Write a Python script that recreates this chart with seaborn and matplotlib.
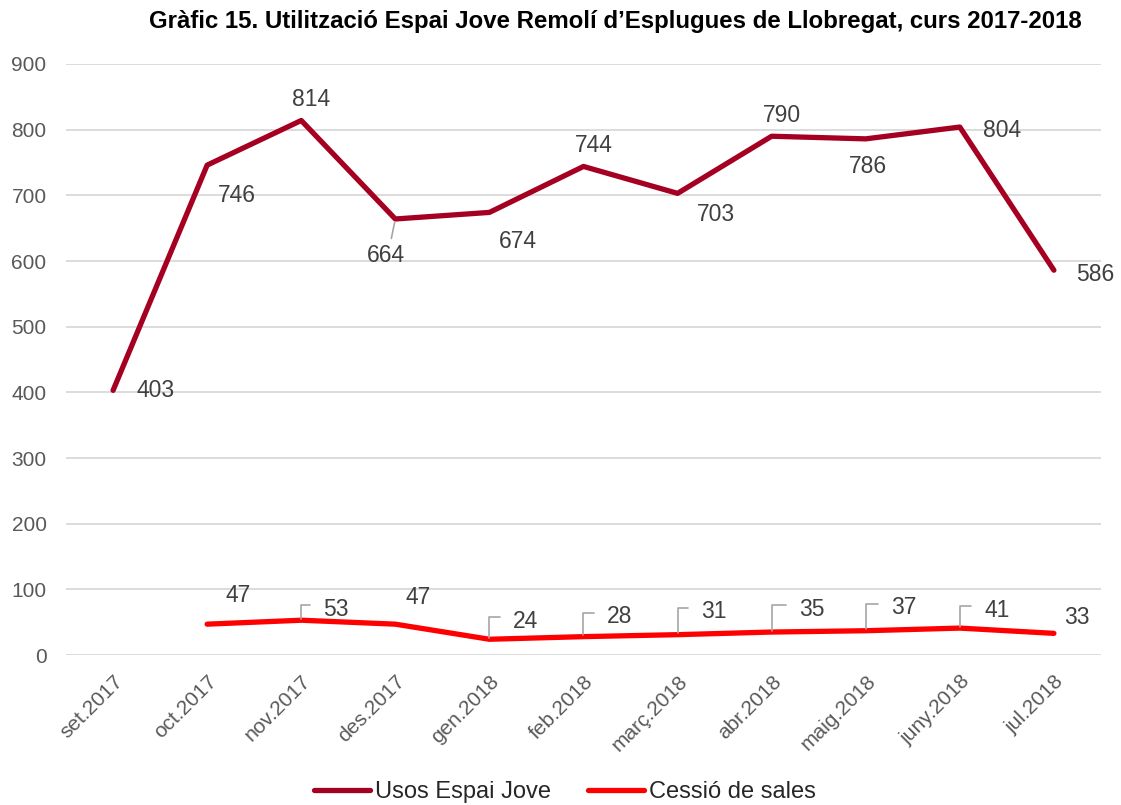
import numpy as np
import pandas as pd
import matplotlib
matplotlib.use("Agg")
import matplotlib.pyplot as plt
import seaborn as sns

months = ["set.2017", "oct.2017", "nov.2017", "des.2017", "gen.2018", "feb.2018",
          "març.2018", "abr.2018", "maig.2018", "juny.2018", "jul.2018"]
usos = [403, 746, 814, 664, 674, 744, 703, 790, 786, 804, 586]
cessio = [np.nan, 47, 53, 47, 24, 28, 31, 35, 37, 41, 33]
series_names = ["Usos Espai Jove", "Cessió de sales"]
title = "Gràfic 15. Utilització Espai Jove Remolí d’Esplugues de Llobregat, curs 2017-2018"
yticks = [0, 100, 200, 300, 400, 500, 600, 700, 800, 900]

sns.set_theme(style="white")
plt.rcParams["font.family"] = ["Liberation Sans", "DejaVu Sans"]

df = pd.DataFrame({
    "x": list(range(len(months))) * 2,
    "valor": usos + cessio,
    "serie": [series_names[0]] * len(months) + [series_names[1]] * len(months),
})
df = df.dropna()

fig = plt.figure(figsize=(11.21, 8.05), dpi=100)
ax = fig.add_axes([0.0589, 0.1863, 0.9232, 0.7342])

palette = {series_names[0]: "#A50021", series_names[1]: "#FF0000"}
sns.lineplot(data=df, x="x", y="valor", hue="serie", palette=palette, ax=ax,
             linewidth=3.8, sort=False, legend=True, solid_capstyle="round",
             solid_joinstyle="round")

ax.set_xlim(-0.5, len(months) - 0.5)
ax.set_ylim(0, 900)
ax.set_yticks(yticks)
ax.set_xticks(range(len(months)))
ax.set_xticklabels(months, rotation=45, ha="right", rotation_mode="anchor")
ax.tick_params(axis="y", labelsize=15, colors="#595959", length=0, pad=14)
ax.tick_params(axis="x", labelsize=15, colors="#595959", length=0, pad=12)
ax.set_xlabel("")
ax.set_ylabel("")
ax.grid(axis="y", color="#D9D9D9", linewidth=1.3)
ax.set_axisbelow(True)
for s in ax.spines.values():
    s.set_visible(False)

lab_kw = dict(fontsize=16.5, color="#404040", textcoords="offset pixels",
              ha="center", va="center")

# label offsets in pixels (dx, dy up) from each point
usos_off = [(42, 0), (30, -30), (10, 21), (-9, -37), (28, -29), (10, 21),
            (38, -21), (10, 21), (2, -28), (42, -3), (41, -4)]
for i, v in enumerate(usos):
    if i == 3:
        ax.annotate(f"{v}", xy=(i, v), xytext=usos_off[i],
                    arrowprops=dict(arrowstyle="-", color="#A6A6A6", lw=1.2,
                                    shrinkA=2, shrinkB=2, relpos=(0.6, 1.0)),
                    **lab_kw)
    else:
        ax.annotate(f"{v}", xy=(i, v), xytext=usos_off[i], **lab_kw)

ces_off = [None, (31, 29), (35, 11), (23, 27), (36, 18), (36, 20), (36, 23),
           (40, 23), (38, 23), (37, 18), (23, 16)]
ces_leader = [False, False, True, False, True, True, True, True, True, True, False]
leader = dict(arrowstyle="-", color="#A6A6A6", lw=1.2,
              connectionstyle="angle,angleA=0,angleB=90,rad=0",
              shrinkA=7, shrinkB=1, relpos=(0, 0.68))
for i, v in enumerate(cessio):
    if ces_off[i] is None or np.isnan(v):
        continue
    if ces_leader[i]:
        ax.annotate(f"{int(v)}", xy=(i, v), xytext=ces_off[i],
                    arrowprops=leader, **lab_kw)
    else:
        ax.annotate(f"{int(v)}", xy=(i, v), xytext=ces_off[i], **lab_kw)

fig.text(0.549, 0.973, title, ha="center", va="center", fontsize=17.3,
         fontweight="bold", color="#000000")

handles, labels = ax.get_legend_handles_labels()
ax.legend_.remove()
leg = fig.legend(handles, labels, loc="center", bbox_to_anchor=(0.504, 0.016),
                 ncol=2, frameon=False, fontsize=17, handlelength=2.35,
                 handletextpad=0.2, columnspacing=1.6, borderpad=0)
for h in leg.get_lines():
    h.set_linewidth(3.8)
    h.set_solid_capstyle("round")

fig.savefig("out.png", dpi=100)
